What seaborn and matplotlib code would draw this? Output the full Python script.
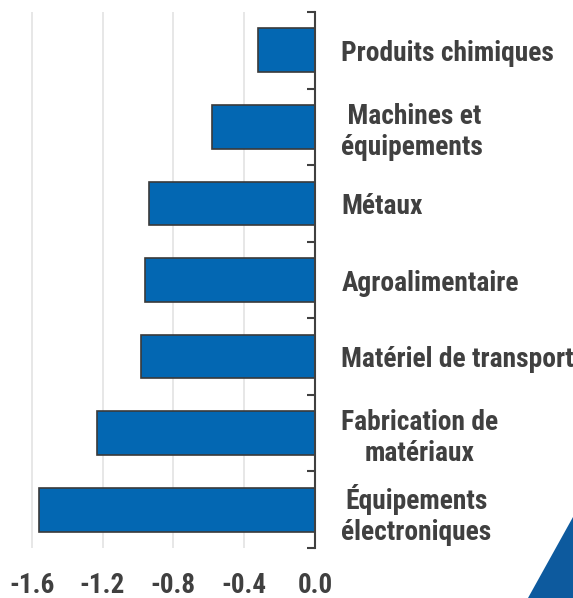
import numpy as np
import pandas as pd
import matplotlib
matplotlib.use("Agg")
import matplotlib.pyplot as plt
import seaborn as sns
from matplotlib.patches import Polygon

# Data
sectors = [
    "Produits chimiques",
    " Machines et\néquipements",
    "Métaux",
    "Agroalimentaire",
    "Matériel de transport",
    "Fabrication de\nmatériaux",
    "Équipements\nélectroniques",
]
values = [-0.32, -0.58, -0.94, -0.96, -0.98, -1.23, -1.56]
xticks = [-1.6, -1.2, -0.8, -0.4, 0.0]
xtick_labels = ["-1.6", "-1.2", "-0.8", "-0.4", "0.0"]

df = pd.DataFrame({"sector": sectors, "value": values})

sns.set_theme(style="white")
plt.rcParams["font.family"] = ["Roboto Condensed", "Archivo Narrow", "DejaVu Sans"]

text_col = "#404040"
bar_col = "#0367B2"

fig = plt.figure(figsize=(5.73, 5.98), dpi=100)
ax = fig.add_axes([14 / 573, 50 / 598, 301 / 573, 536 / 598])

sns.barplot(data=df, x="value", y="sector", orient="h", color=bar_col,
            saturation=1, width=0.57, edgecolor="#3a3a3a", linewidth=1.2, ax=ax)

ax.set_xlim(-1.7, 0)
ax.set_ylim(len(sectors) - 0.5, -0.5)

# vertical gridlines
ax.set_xticks(xticks)
ax.set_xticklabels(xtick_labels, fontsize=19.5, fontweight="semibold", color=text_col)
ax.grid(axis="x", color="#e3e3e3", linewidth=1.2)
ax.grid(axis="y", visible=False)
ax.tick_params(axis="x", length=0, pad=17.5)

# y axis on the right
ax.yaxis.tick_right()
ax.tick_params(axis="y", which="major", length=0, pad=19, labelsize=19.8,
               labelcolor=text_col)
ax.set_yticks(np.arange(-0.5, len(sectors), 1.0), minor=True)
ax.tick_params(axis="y", which="minor", direction="in", length=6, width=1.5,
               color=text_col, right=True, left=False)
for lbl in ax.get_yticklabels():
    lbl.set_fontweight("semibold")
    lbl.set_linespacing(1.2)
    if lbl.get_text().startswith(" "):
        lbl.set_multialignment("left")
    else:
        lbl.set_multialignment("center")

for s in ["left", "top", "bottom"]:
    ax.spines[s].set_visible(False)
ax.spines["right"].set_color(text_col)
ax.spines["right"].set_linewidth(1.5)

ax.set_xlabel("")
ax.set_ylabel("")

# decorative corner shape
tri = Polygon([[528 / 573, 0], [1, (598 - 517) / 598], [1, 0]], closed=True,
              transform=fig.transFigure, facecolor="#0D5A9E", edgecolor="none")
fig.patches.append(tri)

fig.savefig("out.png", dpi=100)
